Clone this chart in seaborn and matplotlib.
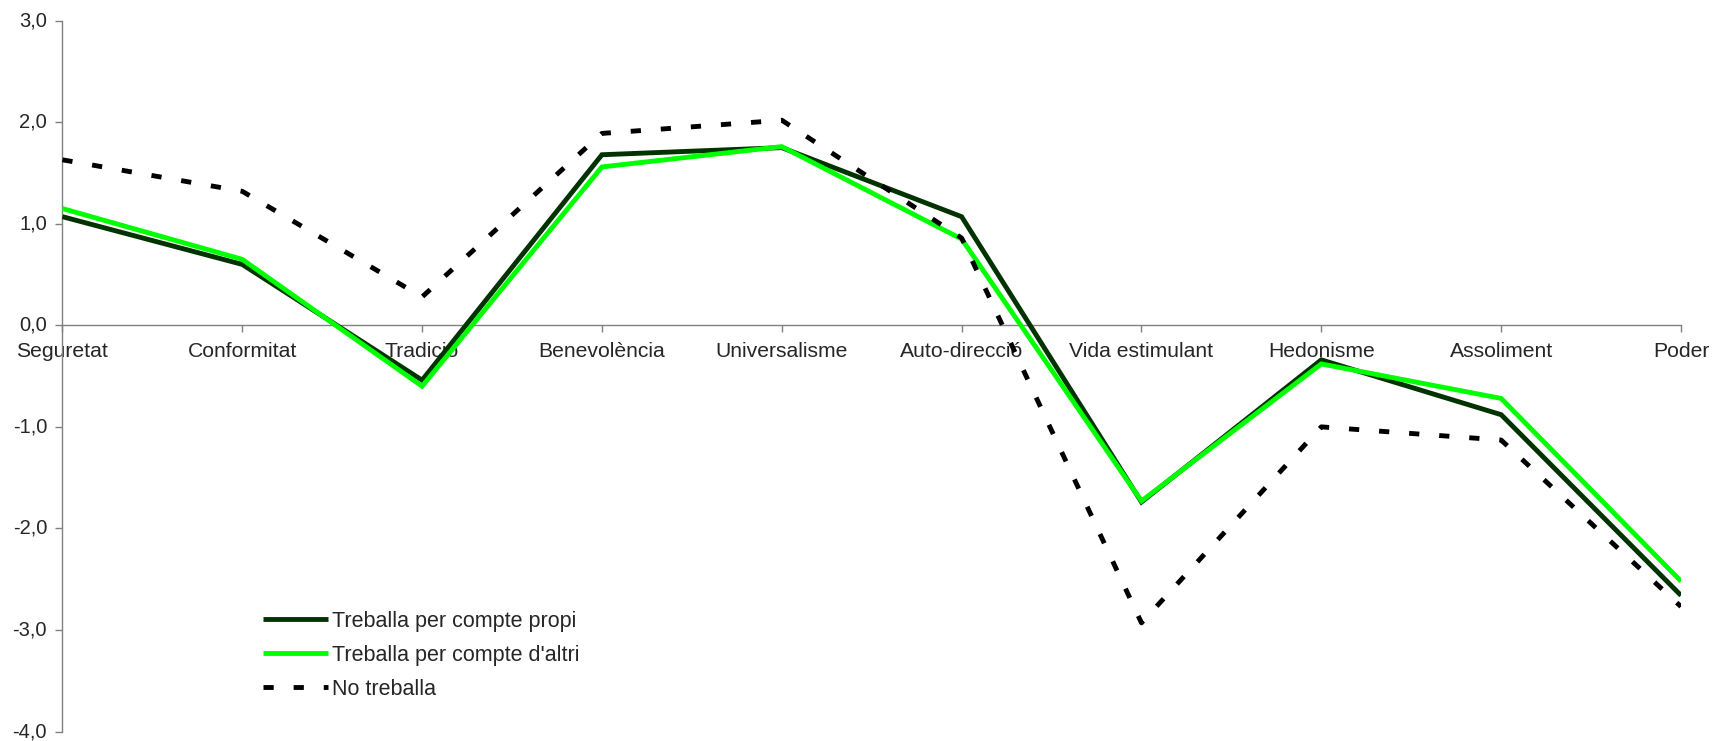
import matplotlib
matplotlib.use("Agg")
import matplotlib.pyplot as plt
import seaborn as sns
from matplotlib.ticker import FixedLocator, FuncFormatter
from matplotlib.lines import Line2D

categories = ["Seguretat", "Conformitat", "Tradició", "Benevolència", "Universalisme",
              "Auto-direcció", "Vida estimulant", "Hedonisme", "Assoliment", "Poder"]
propi = [1.07, 0.60, -0.54, 1.68, 1.75, 1.07, -1.74, -0.34, -0.88, -2.66]
altri = [1.15, 0.65, -0.60, 1.56, 1.76, 0.85, -1.73, -0.38, -0.72, -2.52]
no_treballa = [1.63, 1.32, 0.28, 1.89, 2.02, 0.86, -2.93, -1.00, -1.13, -2.77]
series_labels = ["Treballa per compte propi", "Treballa per compte d'altri", "No treballa"]
y_ticks = [-4, -3, -2, -1, 0, 1, 2, 3]

sns.set_style("white")
plt.rcParams["font.family"] = ["Liberation Sans", "DejaVu Sans"]

fig = plt.figure(figsize=(17.17, 7.41), dpi=100)
top_px, bot_px = 20.7, 731.5
ax = fig.add_axes([62.4 / 1717, 1 - bot_px / 741, (1681 - 62.4) / 1717, (bot_px - top_px) / 741])

lw = 3.5
dash = (0, (2.1, 4.1))
sns.lineplot(x=categories, y=propi, ax=ax, color="#003300", linewidth=lw, sort=False,
             solid_capstyle="butt", solid_joinstyle="miter", zorder=3)
sns.lineplot(x=categories, y=altri, ax=ax, color="#00FF00", linewidth=lw, sort=False,
             solid_capstyle="butt", solid_joinstyle="miter", zorder=4)
sns.lineplot(x=categories, y=no_treballa, ax=ax, color="black", linewidth=lw, sort=False,
             linestyle=dash, dash_capstyle="butt", zorder=5)

ax.set_xlim(0, len(categories) - 1)
ax.set_ylim(-4, 3)
ax.yaxis.set_major_locator(FixedLocator(y_ticks))
ax.yaxis.set_major_formatter(FuncFormatter(lambda v, p: f"{v:.1f}".replace(".", ",")))

for s in ["top", "right"]:
    ax.spines[s].set_visible(False)
ax.spines["bottom"].set_position(("data", 0))
for s in ["left", "bottom"]:
    ax.spines[s].set_color("#808080")
    ax.spines[s].set_linewidth(1.0)

ax.tick_params(axis="x", direction="out", length=5, width=1, color="#808080",
               labelsize=15.2, pad=7, bottom=True)
ax.tick_params(axis="y", direction="out", length=5, width=1, color="#808080",
               labelsize=14.5, pad=6, left=True)
for t in ax.get_yticklabels():
    t.set_verticalalignment("center")
ax.set_xlabel("")
ax.set_ylabel("")
ax.grid(False)
ax.patch.set_alpha(0)

handles = [
    Line2D([], [], color="#003300", linewidth=lw, solid_capstyle="butt"),
    Line2D([], [], color="#00FF00", linewidth=lw, solid_capstyle="butt"),
    Line2D([], [], color="black", linewidth=lw, linestyle=dash, dash_capstyle="butt"),
]
leg = ax.legend(handles, series_labels, loc="upper left",
                bbox_to_anchor=(263 / 1717, 1 - 611 / 741), bbox_transform=fig.transFigure,
                frameon=False, fontsize=15.5, handlelength=3.0, handletextpad=0.22,
                labelspacing=0.6, borderpad=0, borderaxespad=0)

fig.savefig("out.png", dpi=100)
